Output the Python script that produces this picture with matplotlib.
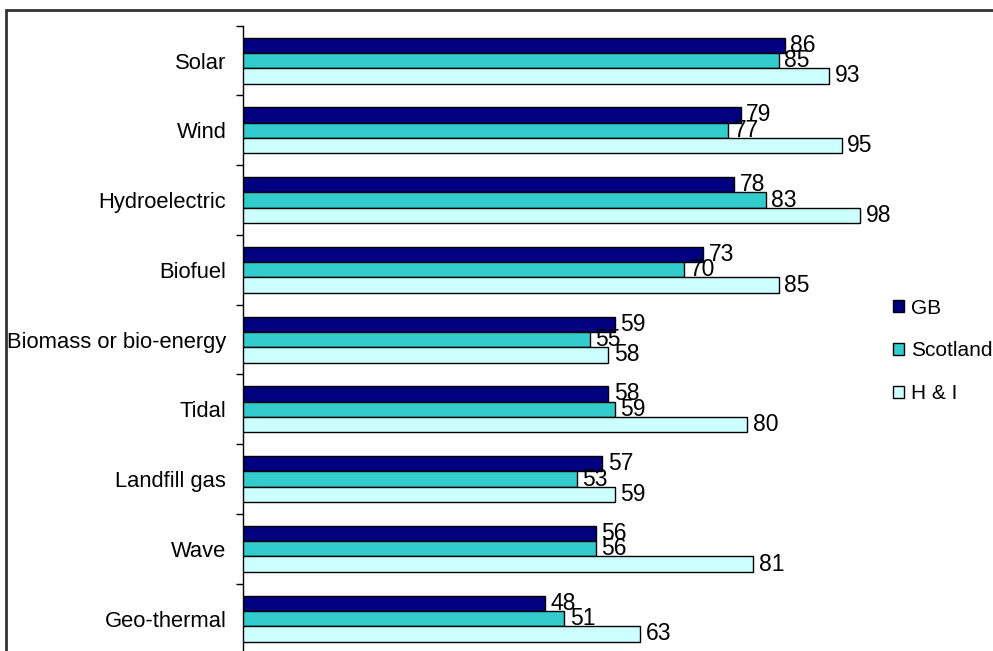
import numpy as np
import matplotlib
matplotlib.use("Agg")
import matplotlib.pyplot as plt
from matplotlib.patches import Rectangle, Patch

plt.rcParams['font.family'] = ['Liberation Sans', 'DejaVu Sans']

categories = ["Solar", "Wind", "Hydroelectric", "Biofuel", "Biomass or bio-energy",
              "Tidal", "Landfill gas", "Wave", "Geo-thermal"]
gb = [86, 79, 78, 73, 59, 58, 57, 56, 48]
scotland = [85, 77, 83, 70, 55, 59, 53, 56, 51]
hi = [93, 95, 98, 85, 58, 80, 59, 81, 63]
series_names = ["GB", "Scotland", "H & I"]
colors = ["#000080", "#33CCCC", "#CCFFFF"]

W, H = 993, 651
fig = plt.figure(figsize=(W / 100, H / 100), dpi=100)

# outer chart border (cropped at right/bottom in the reference)
top = 1 - 9.5 / H
fig.patches.append(Rectangle((6 / W, -0.2), 1.2, top + 0.2,
                             transform=fig.transFigure, fill=False,
                             edgecolor="#333333", linewidth=2))

band = 69.75
ax_top = 25.7
ax = fig.add_axes([243 / W, 1 - (ax_top + 9 * band) / H, 630 / W, 9 * band / H])

n = len(categories)
y = np.arange(n)
bh = 0.22
for k, (vals, name, col) in enumerate(zip([gb, scotland, hi], series_names, colors)):
    pos = y + (k - 1) * bh
    ax.barh(pos, vals, height=bh, color=col, edgecolor="black", linewidth=1,
            zorder=2 + 2 * k, label=name)
    for p, v in zip(pos, vals):
        ax.annotate(str(v), (v, p), xytext=(4, 0), textcoords="offset points",
                    ha="left", va="center", fontsize=16.5, zorder=3 + 2 * k)

ax.set_xlim(0, 100)
ax.set_ylim(n - 0.5, -0.5)
ax.set_xticks([])
for s in ["top", "right", "bottom"]:
    ax.spines[s].set_visible(False)
ax.spines["left"].set_linewidth(1)

# ticks at category boundaries, labels at category centres
ax.set_yticks(np.arange(-0.5, n, 1.0))
ax.set_yticklabels([])
ax.tick_params(axis="y", which="major", length=5, width=1, direction="out")
ax.set_yticks(y, minor=True)
ax.set_yticklabels(categories, minor=True, fontsize=15.8)
ax.tick_params(axis="y", which="minor", length=0, pad=12)

handles = [Patch(facecolor=c, edgecolor="black", linewidth=1) for c in colors]
fig.legend(handles, series_names, loc="center left",
           bbox_to_anchor=(893 / W, 1 - 351 / H), frameon=False, fontsize=15,
           handlelength=0.55, handleheight=0.55, handletextpad=0.3,
           labelspacing=1.15, borderpad=0, borderaxespad=0)

fig.savefig("out.png", dpi=100)
